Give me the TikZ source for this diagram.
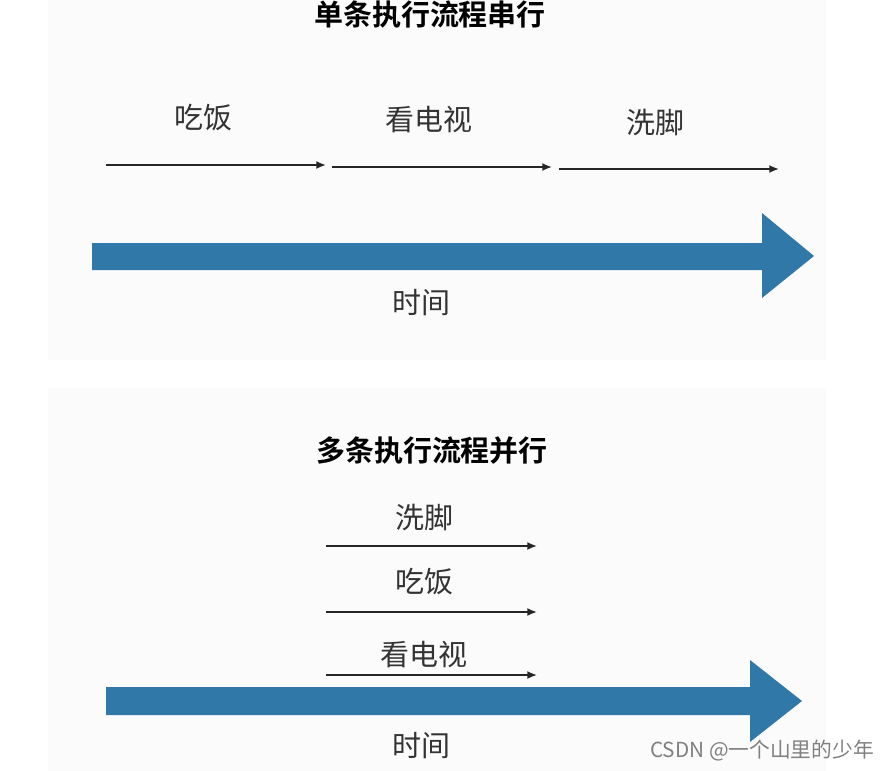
\documentclass[tikz,border=0pt]{standalone}
\usepackage{fontspec}
\newfontfamily\cjk{Noto Sans CJK SC}[BoldFont={Noto Sans CJK SC Bold}]
\usepackage{tikz}
\usetikzlibrary{arrows.meta}
\definecolor{timeblue}{HTML}{2F78A8}
\definecolor{labelgray}{HTML}{333333}

\begin{document}
\begin{tikzpicture}[
    x=0.02cm, y=-0.02cm,
    font=\cjk,
    % text styles
    title/.style={font=\cjk\bfseries\fontsize{16.5}{18}\selectfont, text=black},
    act/.style={font=\cjk\fontsize{16.5}{18}\selectfont, text=labelgray},
    credittext/.style={font=\cjk\fontsize{11.8}{14}\selectfont, text=black!50},
    % connectors
    flow/.style={-{Latex[length=5.5pt,width=4.5pt]}, line width=0.9pt, draw=black!85},
    timeline/.style={fill=timeblue, draw=none},
    panel/.style={fill=black!1.5, draw=none},
]
\useasboundingbox (0,0) rectangle (883,771);

\fill[panel] (48,0) rectangle (826,360);
\fill[panel] (48,388) rectangle (826,771);

% -------------------------
% Top: one flow, serial
% -------------------------
\node[title] (serialT) at (430,15) {单条执行流程串行};

\node[act] (eatA)  at (203,118) {吃饭};
\node[act] (tvA)   at (429,120) {看电视};
\node[act] (washA) at (655,122) {洗脚};

\coordinate (eatAs)  at (106,165); \coordinate (eatAe)  at (326,165);
\coordinate (tvAs)   at (332,167); \coordinate (tvAe)   at (552,167);
\coordinate (washAs) at (559,169); \coordinate (washAe) at (779,169);

\draw[flow] (eatAs) -- (eatAe);
\draw[flow] (tvAs) -- (tvAe);
\draw[flow] (washAs) -- (washAe);

\fill[timeline] (92,243) -- (762,243) -- (762,213) -- (814,256)
  -- (762,298) -- (762,270) -- (92,270) -- cycle;
\node[act] (timeA) at (421,303) {时间};

% -------------------------
% Bottom: several flows, parallel
% -------------------------
\node[title] (parallelT) at (432,451) {多条执行流程并行};

\node[act] (washB) at (424,517) {洗脚};
\node[act] (eatB)  at (424,582) {吃饭};
\node[act] (tvB)   at (424,655) {看电视};

\coordinate (washBs) at (326,546); \coordinate (washBe) at (537,546);
\coordinate (eatBs)  at (326,612); \coordinate (eatBe)  at (537,612);
\coordinate (tvBs)   at (326,675); \coordinate (tvBe)   at (537,675);

\draw[flow] (washBs) -- (washBe);
\draw[flow] (eatBs) -- (eatBe);
\draw[flow] (tvBs) -- (tvBe);

\fill[timeline] (106,687) -- (750,687) -- (750,660) -- (802,701)
  -- (750,742) -- (750,715) -- (106,715) -- cycle;
\node[act] (timeB) at (421,746) {时间};

% watermark
\node[credittext] (credit) at (762,751) {CSDN @一个山里的少年};

\end{tikzpicture}
\end{document}
